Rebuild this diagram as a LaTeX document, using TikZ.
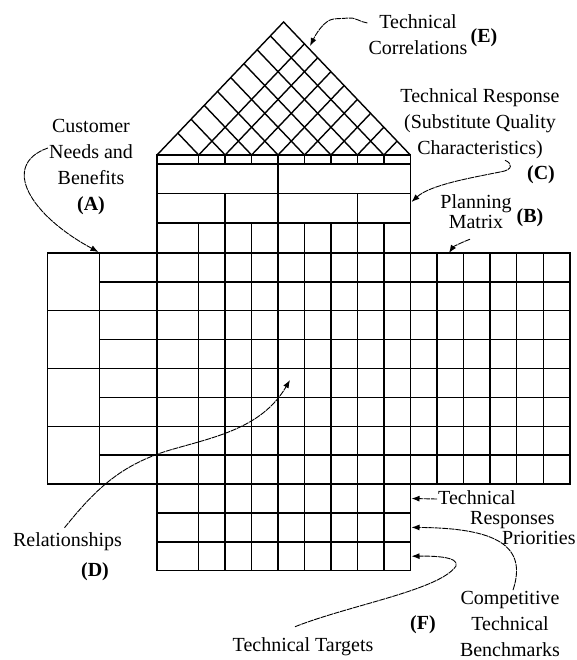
\documentclass[tikz,border=0pt]{standalone}
\usepackage{fontspec}
\setmainfont{Liberation Serif}
\usetikzlibrary{calc,arrows.meta}

\tikzset{
  hoq/.style={line width=1.4pt},
  lbl/.style={font=\fontsize{20}{26}\selectfont, inner sep=1pt, align=center},
  tag/.style={font=\fontsize{20}{26}\selectfont\bfseries, inner sep=1pt},
  pointer/.style={line width=0.9pt, dash pattern=on 6pt off 0.8pt, -{Latex[length=8pt,width=6pt]}},
}

\begin{document}
\begin{tikzpicture}[x=1pt,y=-1pt]
  \useasboundingbox (0,0) rectangle (576,660);

  % roof outline
  \coordinate (roofL) at (157,155);
  \coordinate (roofR) at (410.3,155);
  \coordinate (roofTop) at (283.6,22);
  \draw[hoq] (roofL) -- (roofTop) -- (roofR);

  % roof lattice
  \foreach \i in {1,...,8}{
    \pgfmathsetmacro{\bx}{198.7+26.45*(\i-1)}
    \pgfmathsetmacro{\fl}{(\bx-157)/253.3}
    \pgfmathsetmacro{\fr}{(410.3-\bx)/253.3}
    \draw[hoq] (\bx,155) -- ($(roofL)!\fl!(roofTop)$);
    \draw[hoq] (\bx,155) -- ($(roofR)!\fr!(roofTop)$);
  }

  % technical response rows
  \draw[hoq] (157,155) rectangle (410.3,253);
  \foreach \y in {164,193.5,223}{
    \draw[hoq] (157,\y) -- (410.3,\y);
  }
  \draw[hoq] (278.05,164) -- (278.05,223);
  \draw[hoq] (225.15,193.5) -- (225.15,223);
  \draw[hoq] (357.4,193.5) -- (357.4,223);

  % relationship body
  \draw[hoq] (157,253) rectangle (410.3,570.7);
  \foreach \i in {1,...,8}{
    \pgfmathsetmacro{\bx}{198.7+26.45*(\i-1)}
    \draw[hoq] (\bx,155) -- (\bx,164);
    \draw[hoq] (\bx,223) -- (\bx,570.7);
  }
  \foreach \k in {1,...,10}{
    \draw[hoq] (157,253+28.88*\k) -- (410.3,253+28.88*\k);
  }

  % customer needs (left)
  \draw[hoq] (47.5,253) rectangle (157,484.04);
  \draw[hoq] (99.3,253) -- (99.3,484.04);
  \foreach \k in {1,...,7}{
    \draw[hoq] (99.3,253+28.88*\k) -- (157,253+28.88*\k);
  }
  \foreach \k in {2,4,6}{
    \draw[hoq] (47.5,253+28.88*\k) -- (99.3,253+28.88*\k);
  }

  % planning matrix (right)
  \draw[hoq] (410.3,253) rectangle (569.9,484.04);
  \foreach \j in {1,...,5}{
    \draw[hoq] (410.3+26.6*\j,253) -- (410.3+26.6*\j,484.04);
  }
  \foreach \k in {1,...,7}{
    \draw[hoq] (410.3,253+28.88*\k) -- (569.9,253+28.88*\k);
  }

  % labels
  \node[lbl] (corrE) at (418,35) {Technical\\Correlations};
  \node[tag] (tagE) at (484,38) {(E)};
  \node[lbl] (respC) at (480,124) {Technical Response\\(Substitute Quality\\Characteristics)};
  \node[tag] (tagC) at (541,175) {(C)};
  \node[lbl, font=\fontsize{20}{20}\selectfont] (planB) at (476,212) {Planning\\Matrix};
  \node[tag] (tagB) at (530,218) {(B)};
  \node[lbl] (custA) at (91,167) {Customer\\Needs and\\Benefits\\\textbf{(A)}};
  \node[lbl] (relD) at (67.5,542) {Relationships};
  \node[tag] (tagD) at (95,572) {(D)};
  \node[lbl] (targets) at (303,647) {Technical Targets};
  \node[tag] (tagF) at (423,625) {(F)};
  \node[lbl] (bench) at (510,624) {Competitive\\Technical\\Benchmarks};
  \node[lbl, font=\fontsize{20}{20}\selectfont, align=left, anchor=west] (prio) at (437,518)
    {Technical\\\hspace*{32pt}Responses\\\hspace*{64pt}Priorities};

  % arrow ends on the house
  \coordinate (tipE) at (310,46);
  \coordinate (tipA) at (98.5,252);
  \coordinate (tipC) at (411.5,202);
  \coordinate (tipB) at (449,253);
  \coordinate (tipD) at (290,380);
  \coordinate (tipP1) at (411.5,498.5);
  \coordinate (tipP2) at (411.5,527.4);
  \coordinate (tipP3) at (411.5,556.2);

  % pointers
  \draw[pointer] ([yshift=12pt]corrE.west) .. controls (360,22) and (355,17) .. (348,18)
    .. controls (340,19) and (335,18) .. (330,20) .. controls (322,24) and (316,34) .. (tipE);
  \draw[pointer] ([yshift=19pt]custA.west) .. controls (0,165) and (30,215) .. (tipA);
  \draw[pointer] ([xshift=25pt]respC.south) .. controls (512,163) and (514,170) .. (500,172)
    .. controls (470,178) and (430,185) .. (tipC);
  \draw[pointer] ([xshift=-6pt,yshift=-9pt]planB.south) .. controls (460,243) and (453,247) .. (tipB);
  \draw[pointer] ([xshift=-3pt,yshift=4pt]relD.north) .. controls (95,490) and (120,465) .. (170,450)
    .. controls (215,437) and (262,428) .. (tipD);
  \draw[pointer] ([yshift=19pt]prio.west) -- (tipP1);
  \draw[pointer] ([xshift=3pt]bench.north) .. controls (528,545) and (495,528) .. (tipP2);
  \draw[pointer] ([xshift=-8pt,yshift=10pt]targets.north) .. controls (350,605) and (440,590) .. (456,566)
    .. controls (460,556) and (430,556) .. (tipP3);
\end{tikzpicture}
\end{document}
